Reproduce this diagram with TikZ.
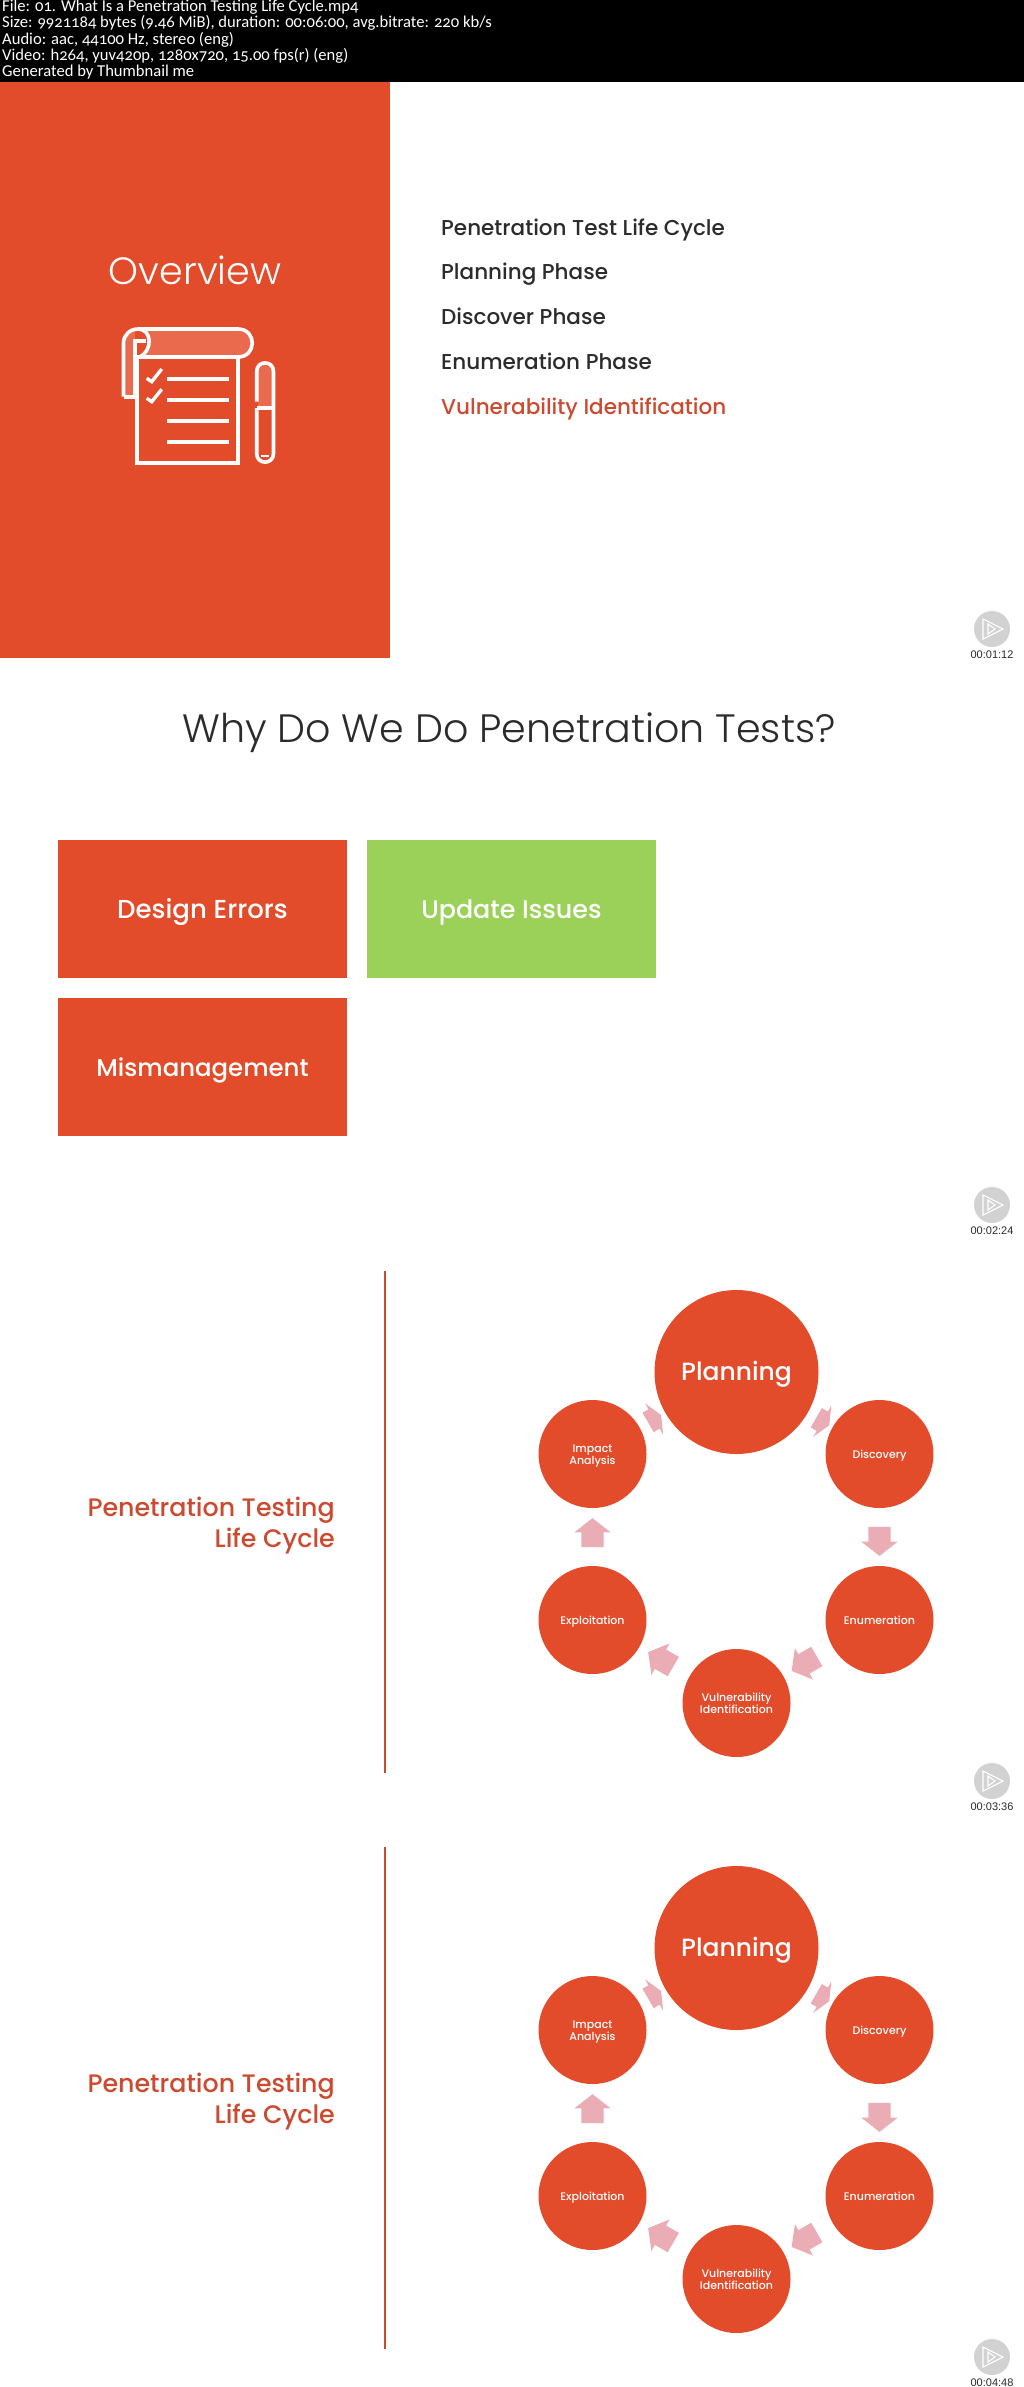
\documentclass[tikz,border=0pt]{standalone}
\usepackage{fontspec}
\usetikzlibrary{shapes.arrows,calc}
\setmainfont{Poppins}
\newfontfamily\hdrfont[Numbers=OldStyle]{Carlito}
\newfontfamily\medfont{Poppins Medium}
\newfontfamily\lightfont{Poppins Light}
\newfontfamily\stampfont{Liberation Sans}
\newcommand{\fsz}[1]{\fontsize{#1}{#1}\selectfont}
\newcommand{\lowr}[2]{\raisebox{-#1pt}[0pt][0pt]{\makebox[0pt][c]{#2}}}
\newcommand{\twolines}[2]{\lowr{-2}{#1}\lowr{10}{#2}}
\definecolor{psorange}{HTML}{E34C2B}
\definecolor{psgreen}{HTML}{9BD158}
\definecolor{psdark}{HTML}{2B2B2B}
\definecolor{pstext}{HTML}{CC4A2F}
\definecolor{pspink}{HTML}{EBADB5}
\definecolor{pslight}{HTML}{E96A4C}
\definecolor{psgrey}{HTML}{D2D2D2}
\tikzset{
  x=1pt,y=-1pt,
  hdr/.style={anchor=base west,inner sep=0pt,text=white,font=\hdrfont\fsz{16.6}},
  menu/.style={anchor=base west,inner sep=0pt,text=psdark,font=\medfont\fsz{21.5}},
  bigbox/.style={rectangle,fill=psorange,minimum width=289pt,minimum height=138pt,inner sep=0pt,text=white,font=\medfont\fsz{25}},
  bubble/.style={circle,fill=psorange,minimum size=108pt,inner sep=0pt,text=white,align=center,font=\medfont\fsz{11}},
  mainbubble/.style={bubble,minimum size=164pt,font=\medfont\fsz{25}},
  flowarrow/.style={single arrow,fill=pspink,inner xsep=0pt,inner ysep=11pt,minimum height=29pt,single arrow head extend=7pt,single arrow tip angle=104,anchor=center},
  stubarrow/.style={flowarrow,minimum height=15pt,single arrow tip angle=132},
  sidetitle/.style={anchor=base east,inner sep=0pt,text=pstext,font=\medfont\fsz{25.3}},
  iconline/.style={draw=white,line width=3.6pt},
  badge/.style={circle,fill=psgrey,minimum size=36pt,inner sep=0pt},
  stamp/.style={inner sep=0pt,text=psdark,font=\stampfont\fsz{11}},
}
\newcommand{\playbadge}[3]{%
  \node[badge] (#1) at (992,#2) {};
  \draw[white,line width=1.1pt,line join=miter] ($(#1)+(-9,-10)$) -- ($(#1)+(11,0)$) -- ($(#1)+(-9,10)$) -- cycle;
  \draw[white,line width=1.1pt] ($(#1)+(-4,-5)$) -- ($(#1)+(3,0)$) -- ($(#1)+(-4,5)$) -- cycle;
  \node[stamp] at ($(#1)+(0,26)$) {#3};
}
\newcommand{\lifecycle}[2]{%
  \begin{scope}[shift={(0,#1)},name prefix=#2-]
    \coordinate (lineA) at (385,1271);
    \coordinate (lineB) at (385,1773);
    \draw[pstext,line width=2.6pt] (lineA) -- (lineB);
    \node[sidetitle] (t1) at (335,1516) {Penetration Testing};
    \node[sidetitle] (t2) at (335,1547) {Life Cycle};
    \node[mainbubble] (plan) at (736.5,1372) {\lowr{8.5}{Planning}};
    \node[bubble] (disc) at (879.5,1454) {\lowr{4.5}{Discovery}};
    \node[bubble] (enum) at (879.5,1620) {\lowr{4.5}{Enumeration}};
    \node[bubble] (vuln) at (736.5,1703) {\twolines{Vulnerability}{Identification}};
    \node[bubble] (expl) at (592.5,1620) {\lowr{4.5}{Exploitation}};
    \node[bubble] (impa) at (592.5,1454) {\twolines{Impact}{Analysis}};
    \node[stubarrow,rotate=-30] (a1) at ($(plan)!0.588!(disc)$) {};
    \node[flowarrow,rotate=-90] (a2) at ($(disc)!0.5!(enum)$) {};
    \node[flowarrow,rotate=-150] (a3) at ($(enum)!0.5!(vuln)$) {};
    \node[flowarrow,rotate=150] (a4) at ($(vuln)!0.5!(expl)$) {};
    \node[flowarrow,rotate=90] (a5) at ($(expl)!0.5!(impa)$) {};
    \node[stubarrow,rotate=30] (a6) at ($(impa)!0.416!(plan)$) {};
  \end{scope}
}
\begin{document}
\begin{tikzpicture}
\useasboundingbox (0,0) rectangle (1024,2387);
\fill[white] (0,0) rectangle (1024,2387);
% header
\fill[black] (0,0) rectangle (1024,82);
\node[hdr] (h1) at (2,12) {File: 01. What Is a Penetration Testing Life Cycle.mp4};
\node[hdr] (h2) at (2,28) {Size: 9921184 bytes (9.46 MiB), duration: 00:06:00, avg.bitrate: 220 kb/s};
\node[hdr] (h3) at (2,45) {Audio: aac, 44100 Hz, stereo (eng)};
\node[hdr] (h4) at (2,61) {Video: h264, yuv420p, 1280x720, 15.00 fps(r) (eng)};
\node[hdr] (h5) at (2,77) {Generated by Thumbnail me};
% overview panel
\fill[psorange] (0,82) rectangle (389.5,658);
\node[inner sep=0pt,text=white,font=\lightfont\fsz{38},anchor=base] (ov) at (195,284) {Overview};
% icon: scroll
\fill[pslight] (146,331) -- (238,331) .. controls (257,331) and (257,355) .. (238,355) -- (140,355) .. controls (150,350) and (150,338) .. (146,331) -- cycle;
\fill[pslight] (125,396) -- (125,341) .. controls (125,335) and (130,331) .. (135,331) -- (135,396) -- cycle;
\draw[iconline,line join=round] (123.5,396.7) -- (123.5,343) .. controls (123.5,335) and (130,329) .. (138,329) -- (238,329) .. controls (257,329) and (257,357) .. (238,357) -- (138,357);
\draw[iconline] (123.5,396.7) -- (137,396.7);
\draw[iconline] (138,329) .. controls (152,329) and (153,350) .. (140,357);
\draw[iconline] (135,396) -- (135,341) -- (146,341);
% icon: page
\draw[iconline] (137,357) rectangle (238,463);
\draw[white,line width=3.4pt] (146.7,378.3) -- (151.7,381.7) -- (161.7,369);
\draw[white,line width=3.4pt] (146.7,398.3) -- (151.7,401.7) -- (161.7,389.3);
\draw[white,line width=3.4pt] (167,379) -- (229,379);
\draw[white,line width=3.4pt] (167,400) -- (229,400);
\draw[white,line width=3.4pt] (167,421) -- (229,421);
\draw[white,line width=3.4pt] (167,442) -- (229,442);
% icon: pen
\fill[pslight] (258,406) -- (258,371) .. controls (258,360) and (272,360) .. (272,371) -- (272,406) -- cycle;
\draw[iconline] (256.7,401.7) -- (256.7,371.5) .. controls (256.7,360) and (273.5,360) .. (273.5,371.5) -- (273.5,453.5) .. controls (273.5,465) and (256.7,465) .. (256.7,453.5) -- (256.7,408);
\draw[iconline] (256.7,408) -- (273.5,408);
\draw[white,line width=2.6pt] (261,456) -- (269,456);
% menu
\node[menu] (m1) at (441,235) {Penetration Test Life Cycle};
\node[menu] (m2) at (441,279) {Planning Phase};
\node[menu] (m3) at (441,324) {Discover Phase};
\node[menu] (m4) at (441,369) {Enumeration Phase};
\node[menu,text=pstext] (m5) at (441,414) {Vulnerability Identification};
\playbadge{b1}{629}{00:01:12}
% why
\node[inner sep=0pt,text=psdark,font=\lightfont\fsz{39.6},anchor=base] (why) at (509,742) {Why Do We Do Penetration Tests?};
\node[bigbox,font=\medfont\fsz{26}] (design) at (202.5,909) {\lowr{9}{Design Errors}};
\node[bigbox,fill=psgreen,font=\medfont\fsz{25.4}] (update) at (511.5,909) {\lowr{9}{Update Issues}};
\node[bigbox,font=\medfont\fsz{24.4}] (mis) at (202.5,1067) {\lowr{9}{Mismanagement}};
\playbadge{b2}{1205}{00:02:24}
% cycles
\lifecycle{0}{c}
\playbadge{b3}{1781}{00:03:36}
\lifecycle{576}{d}
\playbadge{b4}{2357}{00:04:48}
\end{tikzpicture}
\end{document}
